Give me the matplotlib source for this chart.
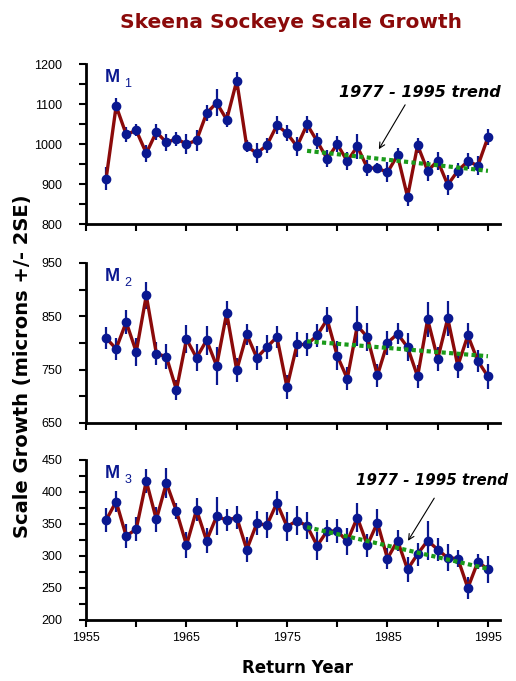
import numpy as np
import matplotlib
matplotlib.use("Agg")
import matplotlib.pyplot as plt

plt.rcParams['font.family'] = ['Liberation Sans', 'DejaVu Sans']

years = np.arange(1957, 1996)

# M1 scale growth and 2SE half-widths
m1 = [913, 1095, 1024, 1034, 977, 1030, 1004, 1013, 1000, 1009,
      1077, 1103, 1061, 1158, 994, 977, 997, 1047, 1027, 994,
      1049, 1007, 963, 1000, 957, 994, 940, 940, 929, 972,
      868, 997, 933, 958, 898, 933, 957, 946, 1017]
m1_err = [29, 19, 18, 15, 21, 20, 21, 17, 25, 26,
          20, 34, 19, 23, 15, 25, 19, 23, 20, 23,
          21, 20, 21, 20, 23, 31, 19, 13, 25, 17,
          23, 19, 25, 23, 25, 19, 20, 23, 20]

m2 = [809, 789, 839, 783, 889, 780, 774, 712, 807, 772,
      805, 757, 856, 749, 816, 772, 792, 811, 717, 797,
      797, 814, 844, 776, 733, 832, 811, 739, 800, 817,
      792, 737, 844, 770, 846, 757, 814, 766, 737]
m2_err = [20, 21, 22, 27, 25, 22, 23, 19, 26, 25,
          27, 36, 22, 23, 20, 23, 23, 21, 22, 23,
          22, 22, 23, 27, 22, 38, 26, 22, 22, 20,
          26, 22, 33, 23, 33, 23, 23, 21, 23]

m3 = [356, 385, 331, 342, 417, 357, 414, 370, 317, 372,
      324, 362, 356, 360, 310, 351, 348, 383, 346, 355,
      347, 316, 339, 339, 323, 360, 317, 352, 296, 324,
      279, 303, 324, 310, 297, 296, 250, 291, 279]
m3_err = [19, 17, 19, 19, 19, 19, 23, 12, 20, 18,
          20, 30, 17, 18, 19, 19, 20, 19, 22, 23,
          21, 22, 17, 18, 21, 23, 18, 21, 17, 16,
          19, 18, 31, 18, 21, 14, 17, 12, 21]

# 1977-1995 trend end values
trend_years = [1977, 1995]
m1_trend = [983, 933]
m2_trend = [803, 775]
m3_trend = [345, 280]

red = '#8b0a0a'
navy = '#0a1890'
green = '#1a9a1a'
wide = ['DejaVu Sans']

fig = plt.figure(figsize=(5.16, 6.81), dpi=100)

panels = [
    (m1, m1_err, m1_trend, (800, 1200), 100, 50, '1', 0.671),
    (m2, m2_err, m2_trend, (650, 950), 100, 50, '2', 0.379),
    (m3, m3_err, m3_trend, (200, 450), 50, 25, '3', 0.0896),
]

axes = []
for vals, errs, trend, ylim, major, minor, sub, bottom in panels:
    ax = fig.add_axes([86 / 516, bottom, 414 / 516, 0.235])
    ax.errorbar(years, vals, yerr=errs, fmt='none', ecolor=navy, elinewidth=1.6, zorder=2)
    ax.plot(years, vals, color=red, lw=2.4, zorder=3)
    ax.plot(years, vals, 'o', color=navy, ms=6, zorder=4)
    ax.plot(trend_years, trend, color=green, lw=3, ls=(0, (1, 0.8)), zorder=5)
    ax.set_xlim(1955, 1996.2)
    ax.set_ylim(*ylim)
    ax.set_yticks(np.arange(ylim[0], ylim[1] + 1, major))
    ax.set_yticks(np.arange(ylim[0], ylim[1] + 1, minor), minor=True)
    ax.set_xticks(np.arange(1955, 1996, 10))
    ax.set_xticks(np.arange(1955, 1996, 5), minor=True)
    for s in ['top', 'right']:
        ax.spines[s].set_visible(False)
    for s in ['left', 'bottom']:
        ax.spines[s].set_linewidth(2)
    ax.tick_params(axis='both', which='both', direction='out', width=1.5, length=5,
                   labelsize=9, colors='black')
    ax.tick_params(axis='y', pad=12)
    ax.text(0.045, 0.97, 'M', transform=ax.transAxes, color=navy, fontsize=13,
            fontweight='bold', va='top', ha='left')
    ax.text(0.092, 0.91, sub, transform=ax.transAxes, color=navy, fontsize=9,
            va='top', ha='left')
    axes.append(ax)

for ax in axes[:2]:
    ax.tick_params(axis='x', labelbottom=False)

ax1, ax2, ax3 = axes
ax1.text(1980.2, 1129, '1977 - 1995 trend', fontsize=11.5, fontweight='bold',
         style='italic', va='center', ha='left', family=wide)
ax1.annotate('', xy=(1984.0, 981), xytext=(1986.9, 1104),
             arrowprops=dict(arrowstyle='->', color='black', lw=0.8))
ax3.text(1981.9, 418, '1977 - 1995 trend', fontsize=10.8, fontweight='bold',
         style='italic', va='center', ha='left', family=wide, clip_on=False)
ax3.annotate('', xy=(1986.9, 320), xytext=(1989.8, 394),
             arrowprops=dict(arrowstyle='->', color='black', lw=0.8))

fig.text(0.564, 0.967, 'Skeena Sockeye Scale Growth', color=red, fontsize=14.5,
         fontweight='bold', ha='center', va='center', family=wide)
fig.text(0.043, 0.462, 'Scale Growth (microns +/- 2SE)', rotation=90, fontsize=14,
         fontweight='bold', ha='center', va='center', family=wide)
fig.text(0.576, 0.019, 'Return Year', fontsize=12, fontweight='bold',
         ha='center', va='center', family=wide)

fig.savefig('out.png', dpi=100)
